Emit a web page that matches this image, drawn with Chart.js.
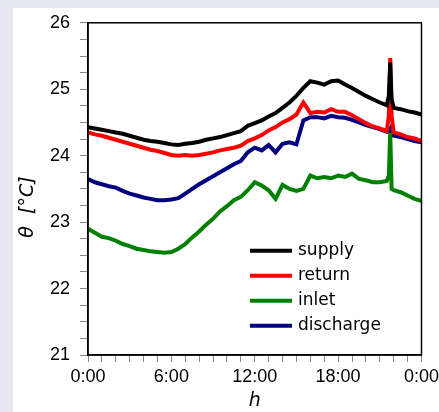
<!DOCTYPE html>
<html>
<head>
<meta charset="utf-8">
<script src="https://cdn.jsdelivr.net/npm/chart.js@4.4.1/dist/chart.umd.min.js"></script>
<style>
  html, body { margin: 0; padding: 0; background: #e8e8f2; overflow: hidden; }
  #panel { position: absolute; left: 13px; top: 8px; width: 426px; height: 404px; background: #fff; }
  #tempChart { position: absolute; left: 13px; top: 2px; }
</style>
</head>
<body>
<div id="panel"></div>
<canvas id="tempChart" width="430" height="410"></canvas>
<script>
// --- DATA ---
const hours = [0, 0.5, 1, 1.5, 2, 2.5, 3, 3.5, 4, 4.5, 5, 5.5, 6, 6.5, 7, 7.5, 8, 8.5, 9, 9.5,
    10, 10.5, 11, 11.5, 12, 12.5, 13, 13.5, 14, 14.5, 15, 15.5, 16, 16.5, 17, 17.5, 18, 18.5,
    19, 19.5, 20, 20.5, 21, 21.5, 21.65, 21.75, 21.85, 22, 22.5, 23, 23.5, 24];

const supply = [24.43, 24.41, 24.39, 24.37, 24.35, 24.33, 24.30, 24.27, 24.24, 24.22, 24.21, 24.19,
    24.17, 24.16, 24.18, 24.19, 24.21, 24.24, 24.26, 24.28, 24.31, 24.34, 24.37, 24.45, 24.49,
    24.53, 24.59, 24.64, 24.72, 24.80, 24.90, 25.02, 25.12, 25.10, 25.07, 25.12, 25.13, 25.07,
    25.02, 24.96, 24.90, 24.85, 24.80, 24.76, 24.90, 25.40, 24.85, 24.72, 24.70, 24.67, 24.65, 24.62];

const ret = [24.35, 24.32, 24.30, 24.27, 24.24, 24.21, 24.18, 24.15, 24.12, 24.09, 24.07, 24.04,
    24.01, 24.00, 24.01, 24.00, 24.01, 24.03, 24.05, 24.08, 24.10, 24.12, 24.15, 24.22, 24.26,
    24.31, 24.38, 24.43, 24.50, 24.55, 24.62, 24.80, 24.64, 24.66, 24.65, 24.70, 24.66, 24.66,
    24.61, 24.55, 24.49, 24.44, 24.41, 24.37, 24.60, 25.47, 24.60, 24.35, 24.32, 24.28, 24.26, 24.22];

const inlet = [22.90, 22.84, 22.78, 22.76, 22.72, 22.67, 22.64, 22.60, 22.58, 22.56, 22.55, 22.54,
    22.55, 22.60, 22.67, 22.77, 22.86, 22.96, 23.05, 23.16, 23.24, 23.33, 23.38, 23.48, 23.60,
    23.55, 23.48, 23.35, 23.56, 23.50, 23.47, 23.50, 23.70, 23.66, 23.68, 23.66, 23.70, 23.68,
    23.73, 23.65, 23.63, 23.60, 23.60, 23.62, 23.70, 24.35, 23.50, 23.48, 23.45, 23.40, 23.35, 23.32];

const discharge = [23.65, 23.60, 23.57, 23.54, 23.52, 23.47, 23.43, 23.40, 23.37, 23.35, 23.33, 23.33,
    23.34, 23.36, 23.43, 23.50, 23.57, 23.63, 23.69, 23.75, 23.81, 23.87, 23.92, 24.05, 24.12,
    24.08, 24.16, 24.05, 24.18, 24.20, 24.17, 24.53, 24.58, 24.58, 24.56, 24.60, 24.58, 24.57,
    24.54, 24.50, 24.46, 24.43, 24.40, 24.36, 24.36, 24.40, 24.33, 24.30, 24.28, 24.25, 24.22, 24.20];

const seriesNames = ['supply', 'return', 'inlet', 'discharge'];
const seriesColors = ['#000000', '#ff0000', '#008000', '#000080'];
const seriesData = [supply, ret, inlet, discharge];

// --- PLUGINS ---
// box round the plot area
const frame = {
    id: 'frame',
    afterDatasetsDraw(chart) {
        const { ctx, chartArea: a } = chart;
        ctx.save();
        ctx.strokeStyle = '#000';
        ctx.lineWidth = 1.5;
        ctx.strokeRect(a.left, a.top, a.right - a.left, a.bottom - a.top);
        ctx.restore();
    }
};

// legend inside the plot, lower right
const innerLegend = {
    id: 'innerLegend',
    afterDraw(chart) {
        const { ctx, chartArea: a } = chart;
        ctx.save();
        ctx.font = '17px "DejaVu Sans"';
        ctx.textBaseline = 'middle';
        chart.data.datasets.forEach((ds, i) => {
            const y = a.top + 228 + i * 25;
            const x0 = a.left + 162;
            ctx.strokeStyle = ds.borderColor;
            ctx.lineWidth = 4;
            ctx.beginPath();
            ctx.moveTo(x0, y);
            ctx.lineTo(x0 + 42, y);
            ctx.stroke();
            ctx.fillStyle = '#000';
            ctx.fillText(ds.label, x0 + 48, y);
        });
        ctx.restore();
    }
};

const tickFont = { family: '"Liberation Sans", Arial', size: 18 };

new Chart(document.getElementById('tempChart'), {
    type: 'line',
    data: {
        datasets: seriesNames.map((name, i) => ({
            label: name,
            data: hours.map((h, j) => ({ x: h, y: seriesData[i][j] })),
            borderColor: seriesColors[i],
            borderWidth: 4,
            pointRadius: 0,
            tension: 0,
            fill: false
        }))
    },
    options: {
        responsive: false,
        devicePixelRatio: 1,
        animation: false,
        layout: { padding: { left: 0, top: 8, right: 14, bottom: 0 } },
        plugins: { legend: { display: false }, tooltip: { enabled: false } },
        scales: {
            x: {
                type: 'linear',
                min: 0,
                max: 24,
                afterFit(s) { s.height = 57; },
                grid: { drawOnChartArea: false, tickLength: 7, color: '#888' },
                border: { color: '#000', width: 1.5 },
                ticks: {
                    stepSize: 1,
                    autoSkip: false,
                    maxRotation: 0,
                    padding: 4,
                    color: '#000',
                    font: tickFont,
                    callback: v => (v % 6 === 0 ? (v % 24) + ':00' : '')
                },
                title: {
                    display: true,
                    text: 'h',
                    color: '#000',
                    padding: 0,
                    font: { family: '"DejaVu Sans"', size: 19, style: 'italic' }
                }
            },
            y: {
                min: 21,
                max: 26,
                afterFit(s) { s.width = 75; },
                grid: { drawOnChartArea: false, tickLength: 8, color: '#888' },
                border: { color: '#000', width: 1.5 },
                ticks: {
                    stepSize: 0.25,
                    autoSkip: false,
                    padding: 10,
                    color: '#000',
                    font: tickFont,
                    callback: v => (Number.isInteger(v) ? v : '')
                },
                title: {
                    display: true,
                    text: 'θ  [°C]      ',
                    color: '#000',
                    padding: 4,
                    font: { family: '"DejaVu Sans"', size: 19, style: 'italic' }
                }
            }
        }
    },
    plugins: [frame, innerLegend]
});
</script>
</body>
</html>
